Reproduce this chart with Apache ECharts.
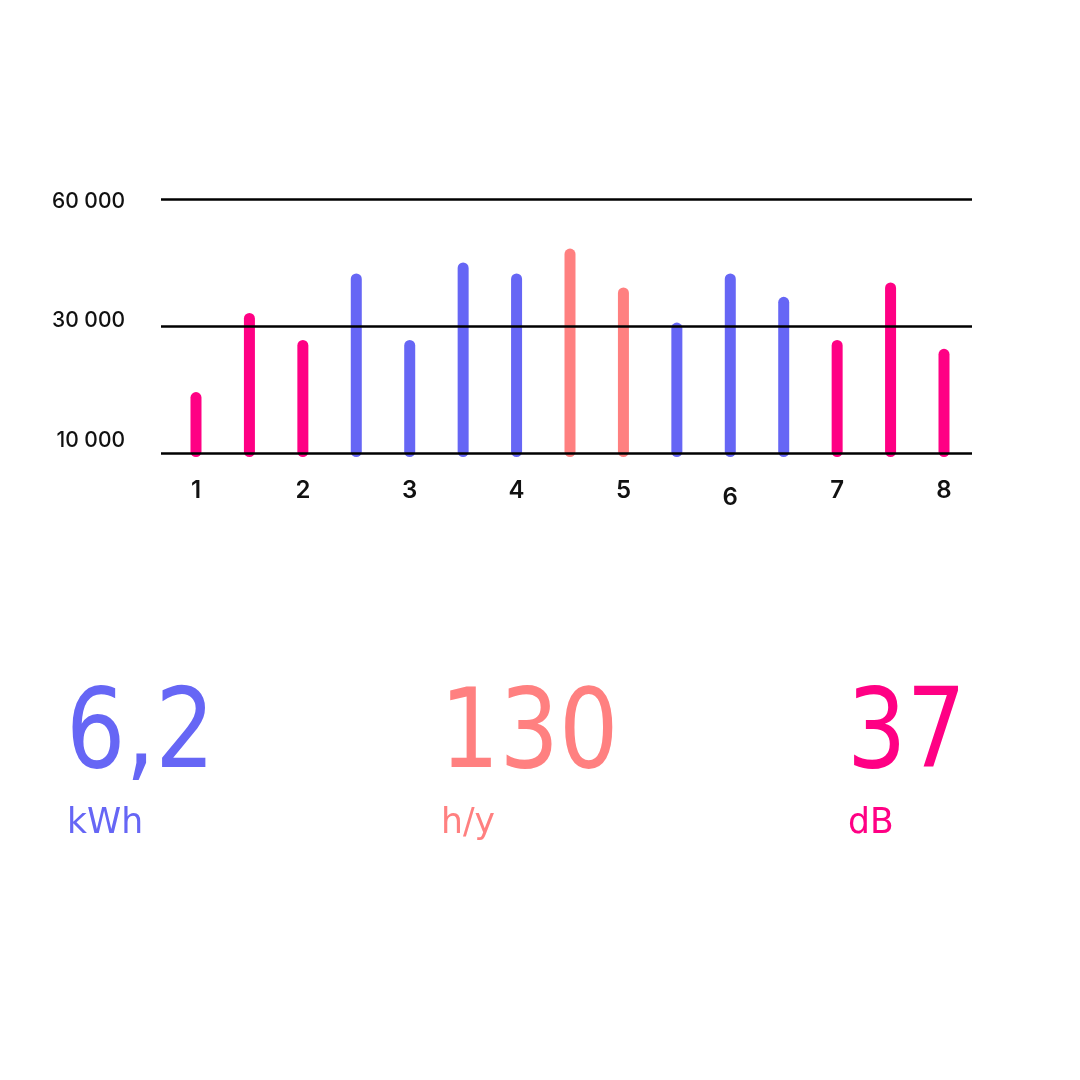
<!doctype html>
<html>
	<head>
		<meta charset="UTF-8">
		<title></title>
		<style>
			html, body {
				margin: 0;
				padding: 0;
				background: #fff;
			}
			#main {
				width: 1080px;
				height: 1080px;
			}
		</style>
	</head>
	<body>
		<div id="main"></div>
		<script src="https://cdn.jsdelivr.net/npm/echarts@6/dist/echarts.min.js"></script>
		<script type="text/javascript">
			// data
			var barLabels = ['1', '', '2', '', '3', '', '4', '', '5', '', '6', '', '7', '', '8'];
			var barValues = [14400, 33100, 26700, 42400, 26700, 45000, 42400, 48300, 39100, 30800, 42400, 36900, 26700, 40300, 24600];
			var barGroups = ['dB', 'dB', 'dB', 'kWh', 'kWh', 'kWh', 'kWh', 'h/y', 'h/y', 'kWh', 'kWh', 'kWh', 'dB', 'dB', 'dB'];
			var yTickLabels = ['10 000', '30 000', '60 000'];

			var kpiValues = ['6,2', '130', '37'];
			var kpiUnits = ['kWh', 'h/y', 'dB'];
			var kpiColors = ['#6666F5', '#FF8080', '#FF0084'];

			var groupColors = {};
			kpiUnits.forEach(function(u, i) {
				groupColors[u] = kpiColors[i];
			});

			var barData = barValues.map(function(v, i) {
				return [i + 1, v];
			});
			var labelPositions = [];
			barLabels.forEach(function(l, i) {
				if(l) labelPositions.push(i + 1);
			});

			//rounded bar, a bit longer than the baseline
			function renderBar(params, api) {
				var top = api.coord([api.value(0), api.value(1)]);
				var base = api.coord([api.value(0), 0]);
				var w = 11;
				return {
					type: 'rect',
					shape: {
						x: top[0] - w / 2,
						y: top[1],
						width: w,
						height: base[1] - top[1] + 4,
						r: w / 2
					},
					style: {
						fill: groupColors[barGroups[params.dataIndex]]
					}
				};
			}

			var yRich = {};
			[[0, 0, 24, 0], [0, 0, 10, 0], [5, 0, 0, 0]].forEach(function(p, i) {
				yRich['t' + i] = {
					fontFamily: 'Inter',
					fontWeight: 500,
					fontSize: 21,
					color: '#111',
					padding: p
				};
			});

			var graphics = [];
			var kpiX = [70, 444, 851];
			kpiValues.forEach(function(v, i) {
				graphics.push({
					type: 'text',
					x: kpiX[i] - 4,
					y: 738,
					scaleX: 0.85,
					style: {
						text: v,
						fill: kpiColors[i],
						font: 'normal 110px "DejaVu Sans"',
						verticalAlign: 'middle'
					}
				});
				graphics.push({
					type: 'text',
					x: kpiX[i] - 3,
					y: 824,
					scaleX: 0.96,
					style: {
						text: kpiUnits[i],
						fill: kpiColors[i],
						font: 'normal 36px "DejaVu Sans"',
						verticalAlign: 'middle'
					}
				});
			});

			var chartOption = {
				backgroundColor: '#fff',
				animation: false,
				grid: {
					left: 161,
					right: 108,
					top: 199,
					bottom: 627
				},
				xAxis: {
					type: 'value',
					min: 0.345,
					max: 15.524,
					axisLine: { show: false },
					axisTick: { show: false },
					splitLine: { show: false },
					axisLabel: {
						customValues: labelPositions,
						margin: 26,
						formatter: function(v) {
							var l = barLabels[Math.round(v) - 1];
							return l === '6' ? '{low|' + l + '}' : '{n|' + l + '}';
						},
						rich: {
							n: {
								fontFamily: 'Inter',
								fontWeight: 600,
								fontSize: 24,
								color: '#111'
							},
							low: {
								fontFamily: 'Inter',
								fontWeight: 600,
								fontSize: 24,
								color: '#111',
								padding: [7, 0, 0, 0]
							}
						}
					}
				},
				yAxis: {
					type: 'value',
					min: 0,
					max: 60000,
					interval: 30000,
					z: 10,
					axisLine: { show: false },
					axisTick: { show: false },
					splitLine: {
						lineStyle: {
							color: '#000',
							width: 2.5
						}
					},
					axisLabel: {
						margin: 36,
						formatter: function(v) {
							var i = Math.round(v / 30000);
							return '{t' + i + '|' + yTickLabels[i] + '}';
						},
						rich: yRich
					}
				},
				series: [{
					type: 'custom',
					renderItem: renderBar,
					encode: { x: 0, y: 1 },
					data: barData,
					z: 2
				}],
				graphic: graphics
			};
			var chart = echarts.init(document.getElementById('main'));
			chart.setOption(chartOption);
		</script>
	</body>
</html>
